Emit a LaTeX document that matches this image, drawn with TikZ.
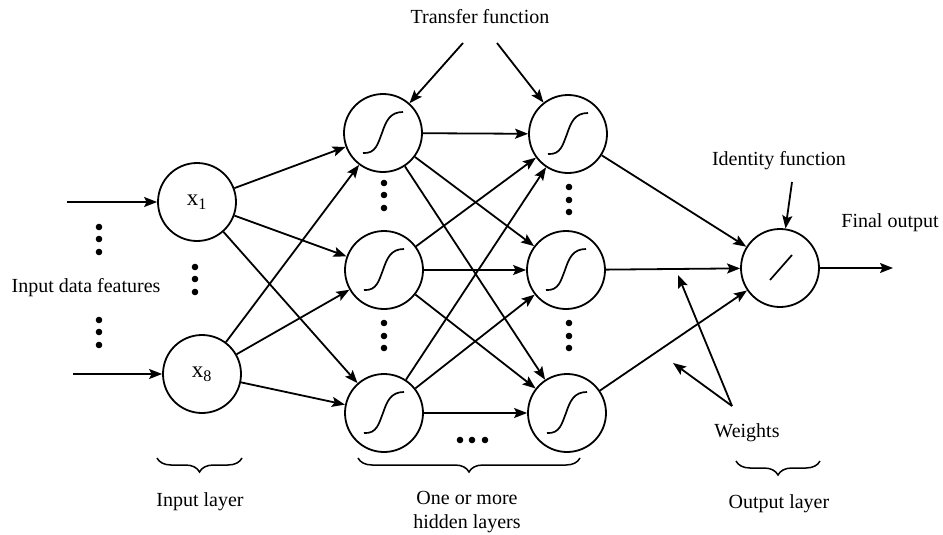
\documentclass[tikz,border=0pt]{standalone}
\usepackage{fontspec}
\setmainfont{Liberation Serif}
\usetikzlibrary{arrows.meta,calc,decorations.pathreplacing}
\begin{document}
\begin{tikzpicture}[x=1pt,y=-1pt,
  neuron/.style={circle,draw,line width=1.8pt,minimum size=78pt,inner sep=0pt,
    font=\fontsize{23}{26}\selectfont},
  link/.style={line width=1.8pt,-{Stealth[length=13pt,width=10pt,inset=2.5pt]}},
  lbl/.style={font=\fontsize{20}{24}\selectfont,align=center,inner sep=0pt},
  curve/.style={line width=1.7pt},
  dot/.style={fill=black},
  layerbrace/.style={line width=1.5pt,decorate,decoration={brace,mirror,amplitude=14pt}}
]
\useasboundingbox (0,0) rectangle (943,535);

% neurons
\node[neuron] (x1) at (197,202) {x\textsubscript{1}};
\node[neuron] (x8) at (202,374) {x\textsubscript{8}};
\node[neuron] (h1a) at (383,133) {};
\node[neuron] (h1b) at (384,270) {};
\node[neuron] (h1c) at (384,413) {};
\node[neuron] (h2a) at (568,134) {};
\node[neuron] (h2b) at (566,270) {};
\node[neuron] (h2c) at (567,413) {};
\node[neuron] (out) at (780,268) {};

% sigmoid transfer symbols
\foreach \n in {h1a,h1b,h1c,h2a,h2b,h2c}
  \draw[curve] ($(\n)+(-20,20)$) .. controls ($(\n)+(-7,21)$) and ($(\n)+(-5,10)$) .. ($(\n)+(-1,0)$)
                .. controls ($(\n)+(3,-12)$) and ($(\n)+(7,-21)$) .. ($(\n)+(20,-21)$);
% identity symbol
\draw[curve] ($(out)+(-10,12)$) -- ($(out)+(12,-13)$);

% inputs
\coordinate (in1) at (67,202);
\coordinate (in8) at (73,374);
\draw[link] (in1) -- (x1);
\draw[link] (in8) -- (x8);

% input layer to first hidden layer
\foreach \s in {x1,x8}
  \foreach \t in {h1a,h1b,h1c}
    \draw[link] (\s) -- (\t);

% first hidden layer to second hidden layer
\foreach \s in {h1a,h1b,h1c}
  \foreach \t in {h2a,h2b,h2c}
    \draw[link] (\s) -- (\t);

% second hidden layer to output
\foreach \s in {h2a,h2b,h2c}
  \draw[link] (\s) -- (out);

% final output
\coordinate (fo) at (893,268);
\draw[link] (out) -- (fo);

% annotation arrows
\node[lbl] (tf) at (480,17) {Transfer function};
\coordinate (tfa) at (463,43);
\coordinate (tfb) at (497,43);
\draw[link] (tfa) -- (h1a);
\draw[link] (tfb) -- (h2a);

\node[lbl] (idf) at (779,161) {Identity function};
\coordinate (ida) at (792,182);
\draw[link] (ida) -- (out);

\node[lbl] (fol) at (890,223) {Final output};
\node[lbl] (idl) at (86,288) {Input data features};

\node[lbl] (wl) at (747,433) {Weights};
\coordinate (wv) at (732,406);
\coordinate (wa) at (678,275);
\coordinate (wb) at (673,363);
\draw[link] (wv) -- (wa);
\draw[link] (wv) -- (wb);

% layer braces and captions
\draw[layerbrace] (157,458) -- (242,458);
\draw[layerbrace] (358,458) -- (580,458);
\draw[layerbrace] (736,461) -- (820,461);
\node[lbl] (il) at (200,502) {Input layer};
\node[lbl] (hl) at (467,512) {One or more\\hidden layers};
\node[lbl] (ol) at (779,504) {Output layer};

% ellipsis dots
\foreach \x/\y in {99/227,99/239,99/252,99/320,99/332,99/345,
                   195/267,195/279,195/292,
                   384/183,384/195,384/208,569/187,569/200,569/212,
                   384/323,384/336,384/348,569/323,569/336,569/348,
                   460/440,472/440,485/440}
  \fill[dot] (\x,\y) circle (3.3pt);
\end{tikzpicture}
\end{document}
